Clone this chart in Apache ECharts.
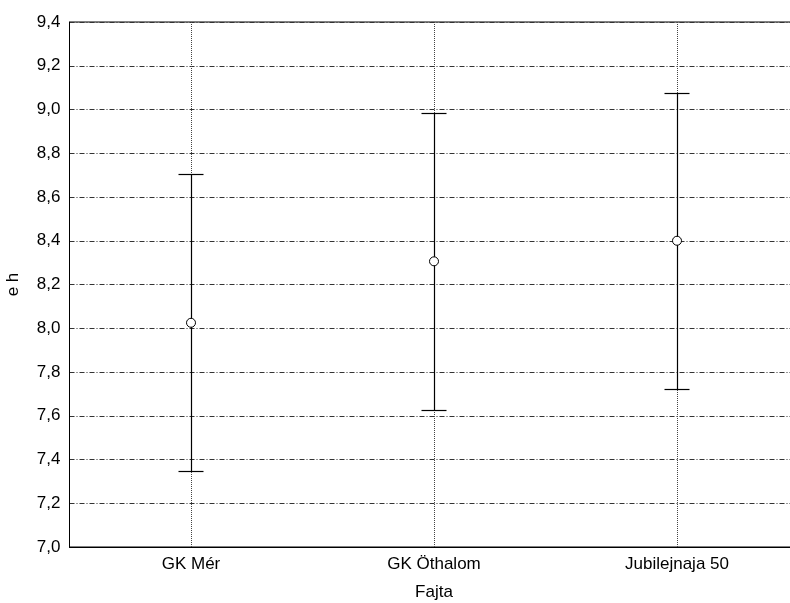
<!DOCTYPE html>
<html>
<head>
<meta charset="utf-8">
<script src="https://cdn.jsdelivr.net/npm/echarts@6/dist/echarts.min.js"></script>
<style>html,body{margin:0;padding:0;background:#fff;}#c{width:790px;height:603px;}</style>
</head>
<body>
<div id="c"></div>
<script>
var categories = ['GK Mér', 'GK Öthalom', 'Jubilejnaja 50'];
var means = [8.025, 8.306, 8.400];
var lower = [7.347, 7.626, 7.722];
var upper = [8.704, 8.982, 9.076];
var yTicks = [7.0, 7.2, 7.4, 7.6, 7.8, 8.0, 8.2, 8.4, 8.6, 8.8, 9.0, 9.2, 9.4];
var xName = 'Fajta';
var yName = 'e h';

var FONT = 'Liberation Sans, Arial, sans-serif';
var chart = echarts.init(document.getElementById('c'), null, {renderer: 'canvas'});

var errData = categories.map(function (c, i) { return [i, lower[i], upper[i]]; });

chart.setOption({
  animation: false,
  backgroundColor: '#fff',
  grid: {left: 69.5, top: 22, width: 729, height: 525, containLabel: false, outerBoundsMode: 'none', show: true, borderColor: '#000', borderWidth: 1, backgroundColor: 'transparent'},
  xAxis: {
    type: 'category',
    data: categories,
    boundaryGap: true,
    name: xName,
    nameLocation: 'middle',
    nameGap: 37,
    nameTextStyle: {color: '#000', fontSize: 17, fontFamily: FONT},
    axisLine: {show: true, lineStyle: {color: '#000', width: 1}},
    axisTick: {show: false},
    axisLabel: {color: '#000', fontSize: 17, fontFamily: FONT, margin: 9},
    splitLine: {show: false}
  },
  yAxis: {
    type: 'value',
    min: yTicks[0],
    max: yTicks[yTicks.length - 1],
    interval: 0.2,
    name: yName,
    nameLocation: 'middle',
    nameGap: 48,
    nameTextStyle: {color: '#000', fontSize: 17, fontFamily: FONT},
    axisLine: {show: true, lineStyle: {color: '#000', width: 1}},
    axisTick: {show: false},
    axisLabel: {
      color: '#000', fontSize: 17, fontFamily: FONT, margin: 9,
      formatter: function (v) { return v.toFixed(1).replace('.', ','); }
    },
    splitLine: {show: true, lineStyle: {color: '#333', width: 1, type: [5, 2, 1, 2]}}
  },
  series: [
    {
      type: 'custom',
      z: 3,
      data: errData,
      renderItem: function (params, api) {
        var x = api.value(0);
        var lo = api.coord([x, api.value(1)]);
        var hi = api.coord([x, api.value(2)]);
        var half = 12.5;
        var style = {stroke: '#000', lineWidth: 1.2};
        return {
          type: 'group',
          children: [
            {type: 'line', shape: {x1: Math.round(lo[0]) + 0.5, y1: lo[1], x2: Math.round(hi[0]) + 0.5, y2: hi[1]}, style: style},
            {type: 'line', shape: {x1: lo[0] - half, y1: Math.round(lo[1]) + 0.5, x2: lo[0] + half, y2: Math.round(lo[1]) + 0.5}, style: style},
            {type: 'line', shape: {x1: hi[0] - half, y1: Math.round(hi[1]) + 0.5, x2: hi[0] + half, y2: Math.round(hi[1]) + 0.5}, style: style}
          ]
        };
      },
      markLine: {
        silent: true,
        symbol: 'none',
        label: {show: false},
        z: 1,
        lineStyle: {color: '#444', width: 1, type: [1, 1]},
        data: categories.map(function (c) { return {xAxis: c}; })
      }
    },
    {
      type: 'scatter',
      z: 4,
      data: categories.map(function (c, i) { return [i, means[i]]; }),
      symbol: 'circle',
      symbolSize: 9,
      itemStyle: {color: '#fff', borderColor: '#000', borderWidth: 1, opacity: 1}
    }
  ]
});
</script>
</body>
</html>
